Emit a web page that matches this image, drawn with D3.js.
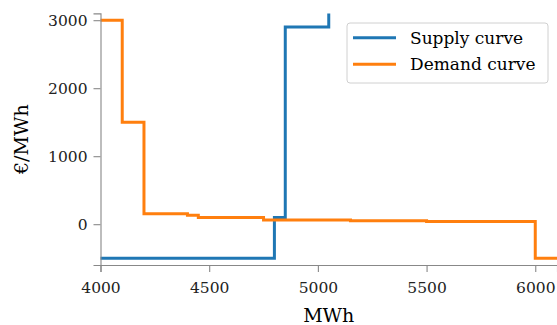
<!DOCTYPE html>
<html lang="en">
<head>
    <meta charset="UTF-8">
    <title>Supply and demand curves</title>
    <script src="https://d3js.org/d3.v7.min.js"></script>
    <style>
        body { margin: 0; background: #fff; }
        svg { display: block; font-family: 'DejaVu Serif', serif; }
        .tick text { font-family: 'DejaVu Serif', serif; font-size: 15.5px; fill: #222; }
    </style>
</head>
<body>
<div id="chart"></div>
<script>
    // step curves: value holds from this x until the next x
    const supplyX = [3900, 4800, 4850, 5050, 5100];
    const supplyY = [-500, 100, 2900, 3600, 3600];
    const demandX = [3900, 4100, 4200, 4400, 4450, 4750, 5150, 5500, 6000, 6150];
    const demandY = [3000, 1500, 155, 130, 100, 62, 50, 40, -500, -500];
    const xTicks = [4000, 4500, 5000, 5500, 6000];
    const yTicks = [0, 1000, 2000, 3000];
    const seriesNames = ['Supply curve', 'Demand curve'];
    const seriesColors = ['#1f77b4', '#ff7f0e'];

    const width = 557, height = 325;
    const margin = { top: 13.4, right: 0, bottom: 60, left: 100.5 };

    const svg = d3.select('#chart').append('svg')
        .attr('width', width)
        .attr('height', height);

    const x = d3.scaleLinear().domain([4000, 6100]).range([margin.left, width - margin.right]);
    const y = d3.scaleLinear().domain([-600, 3100]).range([height - margin.bottom, margin.top]);

    svg.append('clipPath').attr('id', 'plot-clip')
        .append('rect')
        .attr('x', margin.left)
        .attr('y', margin.top)
        .attr('width', width - margin.left - margin.right)
        .attr('height', height - margin.top - margin.bottom);

    const line = d3.line()
        .x(d => x(d[0]))
        .y(d => y(d[1]))
        .curve(d3.curveStepAfter);

    const series = [
        supplyX.map((v, i) => [v, supplyY[i]]),
        demandX.map((v, i) => [v, demandY[i]])
    ];

    svg.append('g').attr('clip-path', 'url(#plot-clip)')
        .selectAll('path')
        .data(series)
        .enter()
        .append('path')
        .attr('d', line)
        .attr('fill', 'none')
        .attr('stroke', (d, i) => seriesColors[i])
        .attr('stroke-width', 3);

    // axes
    const xAxis = svg.append('g')
        .attr('transform', `translate(0,${height - margin.bottom})`)
        .call(d3.axisBottom(x).tickValues(xTicks).tickSize(7).tickPadding(6).tickFormat(d3.format('d')));
    const yAxis = svg.append('g')
        .attr('transform', `translate(${margin.left},0)`)
        .call(d3.axisLeft(y).tickValues(yTicks).tickSize(7).tickPadding(6).tickFormat(d3.format('d')));

    [xAxis, yAxis].forEach(ax => {
        ax.select('.domain').attr('stroke', '#888').attr('stroke-width', 1.1);
        ax.selectAll('.tick line').attr('stroke', '#888').attr('stroke-width', 1.1);
    });
    xAxis.selectAll('.tick text').attr('dy', '0.95em');

    // axis labels
    svg.append('text')
        .attr('x', (margin.left + width) / 2)
        .attr('y', 322)
        .attr('text-anchor', 'middle')
        .style('font-size', '19px')
        .text('MWh');

    svg.append('text')
        .attr('transform', 'rotate(-90)')
        .attr('x', -(margin.top + height - margin.bottom) / 2)
        .attr('y', 28)
        .attr('text-anchor', 'middle')
        .style('font-size', '19px')
        .text('€/MWh');

    // legend
    const legend = svg.append('g').attr('transform', 'translate(347,23)');
    legend.append('rect')
        .attr('width', 201)
        .attr('height', 60)
        .attr('rx', 3)
        .attr('fill', 'rgba(255,255,255,0.8)')
        .attr('stroke', '#d0d0d0')
        .attr('stroke-width', 1);

    const item = legend.selectAll('.item')
        .data(seriesNames)
        .enter()
        .append('g')
        .attr('class', 'item')
        .attr('transform', (d, i) => `translate(0,${14.7 + i * 26.6})`);

    item.append('line')
        .attr('x1', 6).attr('x2', 49)
        .attr('stroke', (d, i) => seriesColors[i])
        .attr('stroke-width', 3);

    item.append('text')
        .attr('x', 63)
        .attr('dy', '0.35em')
        .style('font-size', '17px')
        .text(d => d);
</script>
</body>
</html>
